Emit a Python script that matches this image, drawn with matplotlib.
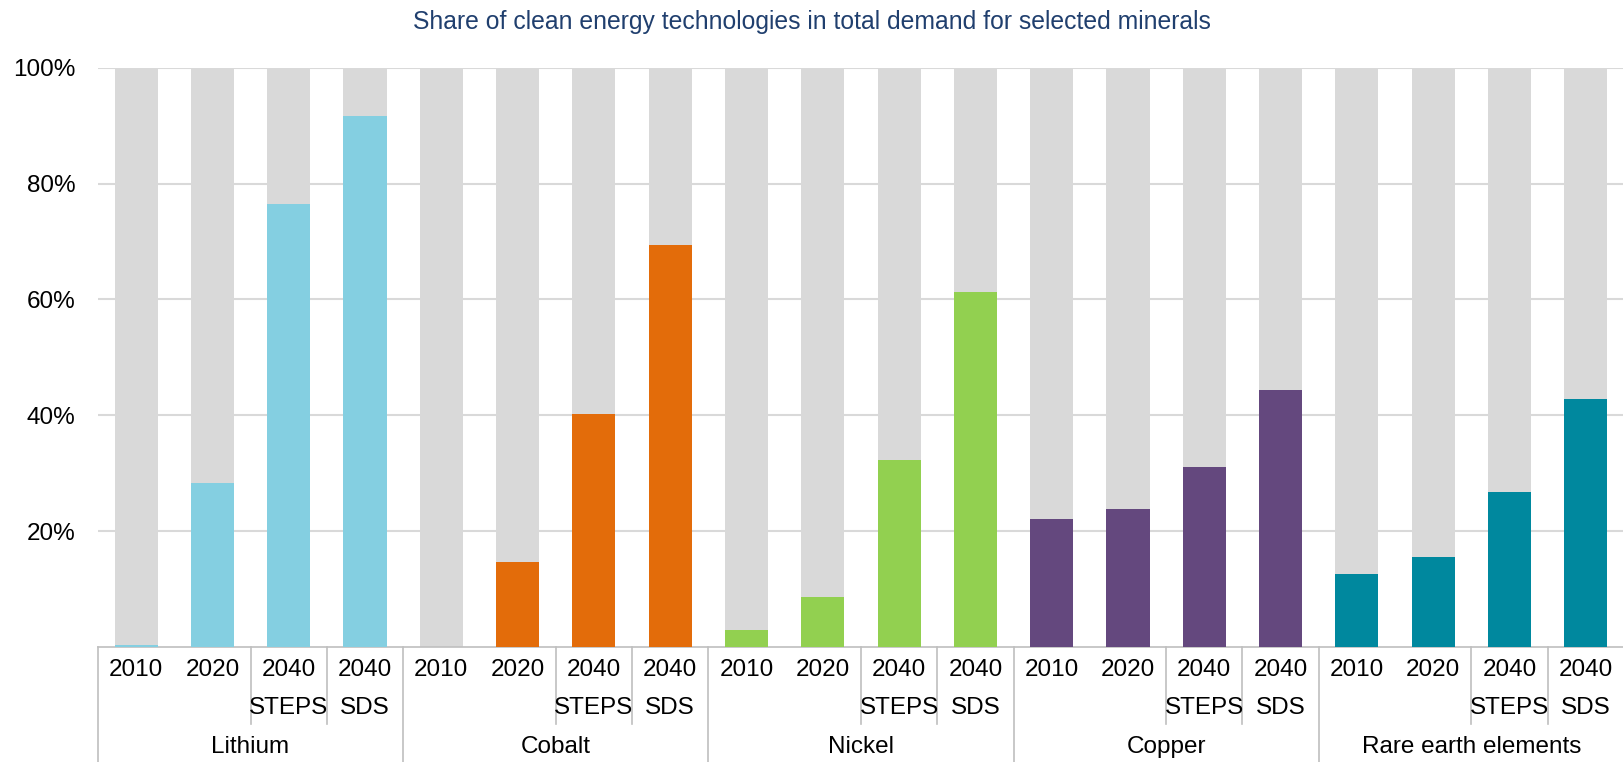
import matplotlib
matplotlib.use("Agg")
import matplotlib.pyplot as plt
from matplotlib.lines import Line2D

plt.rcParams["font.family"] = ["Liberation Sans", "DejaVu Sans"]

# dati (quota %)
MINERALI = ["Lithium", "Cobalt", "Nickel", "Copper", "Rare earth elements"]
ANNI = ["2010", "2020", "2040", "2040"]
SCENARI = ["", "", "STEPS", "SDS"]
LITIO = [0.3, 28.4, 76.4, 91.6]
COBALTO = [0.0, 14.6, 40.3, 69.4]
NICHEL = [2.9, 8.6, 32.2, 61.2]
RAME = [22.1, 23.9, 31.0, 44.4]
TERRE_RARE = [12.6, 15.6, 26.8, 42.8]
COLORI = ["#84CFE1", "#E36C0A", "#92D050", "#64487E", "#00889E"]

GRIGIO = "#D9D9D9"
LINEA = "#BFBFBF"
FS = 17.5

valori = [LITIO, COBALTO, NICHEL, RAME, TERRE_RARE]

fig = plt.figure(figsize=(16.24, 7.62), dpi=100)
ax = fig.add_axes([0.0603, 0.1509, 0.9397, 0.7602])

n = len(ANNI)
for g, (serie, col) in enumerate(zip(valori, COLORI)):
    xs = [g * n + i for i in range(n)]
    ax.bar(xs, [100] * n, width=0.565, color=GRIGIO, zorder=2)
    ax.bar(xs, serie, width=0.565, color=col, zorder=3)

ax.set_xlim(-0.5, len(MINERALI) * n - 0.5)
ax.set_ylim(0, 100)
ax.set_yticks([20, 40, 60, 80, 100])
ax.set_yticklabels([f"{v}%" for v in [20, 40, 60, 80, 100]], fontsize=FS)
ax.tick_params(axis="y", length=0, pad=16)
ax.set_xticks([])
ax.grid(axis="y", color=GRIGIO, linewidth=1.5, zorder=0)
for s in ["left", "right", "top"]:
    ax.spines[s].set_visible(False)
ax.spines["bottom"].set_color(LINEA)
ax.spines["bottom"].set_linewidth(1.2)

# etichette a due livelli sotto l'asse
tr = ax.get_xaxis_transform()
for g, nome in enumerate(MINERALI):
    for i in range(n):
        x = g * n + i
        ax.text(x, -0.0397, ANNI[i], transform=tr, ha="center", va="center",
                fontsize=FS)
        if SCENARI[i]:
            ax.text(x, -0.1053, SCENARI[i], transform=tr, ha="center",
                    va="center", fontsize=FS)
    ax.text(g * n + (n - 1) / 2, -0.1726, nome, transform=tr, ha="center",
            va="center", fontsize=FS)
    # separatori
    ax.add_line(Line2D([g * n - 0.5] * 2, [0, -0.25], transform=tr,
                       color=LINEA, lw=1.2, clip_on=False))
    for k in (1.5, 2.5):
        ax.add_line(Line2D([g * n + k] * 2, [0, -0.133], transform=tr,
                           color=LINEA, lw=1.2, clip_on=False))

fig.text(0.5, 1 - 22 / 762,
         "Share of clean energy technologies in total demand for selected minerals",
         ha="center", va="center", fontsize=17.8, color="#203F6E")

fig.savefig("out.png", dpi=100)
